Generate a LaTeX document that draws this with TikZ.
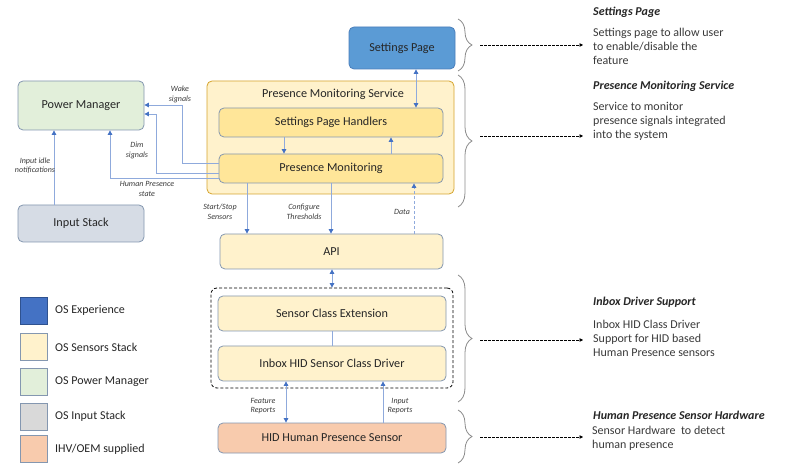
\documentclass[tikz,border=0pt]{standalone}
\usepackage{fontspec}
\setmainfont{Carlito}
\usetikzlibrary{arrows.meta,decorations.pathreplacing,calc}
\definecolor{bordc}{HTML}{8497B0}
\definecolor{linec}{HTML}{8FAADC}
\definecolor{tipc}{HTML}{4472C4}
\definecolor{txt}{HTML}{262626}
\definecolor{dtxt}{HTML}{3A3A3A}
\definecolor{spfill}{HTML}{5B9BD5}
\definecolor{spdraw}{HTML}{4A7EBB}
\definecolor{lightyel}{HTML}{FFF2CC}
\definecolor{darkyel}{HTML}{FFE699}
\definecolor{goldc}{HTML}{D6A52E}
\definecolor{greenf}{HTML}{E2EFDA}
\definecolor{inpf}{HTML}{D6DCE5}
\definecolor{greyf}{HTML}{D9D9D9}
\definecolor{orangef}{HTML}{F8CBAD}
\definecolor{expf}{HTML}{4472C4}
\definecolor{expd}{HTML}{2F528F}
\definecolor{bracec}{HTML}{8C8C8C}
\begin{document}
\begin{tikzpicture}[x=1pt,y=-1pt,
  box/.style={draw=bordc, line width=0.8pt, rounded corners=5pt, inner sep=0pt,
    font=\fontsize{12.2}{14}\selectfont, text=txt},
  conn/.style={draw=linec, line width=0.9pt, -{Triangle[length=4.5pt,width=4.5pt,color=tipc]}},
  biconn/.style={draw=linec, line width=0.9pt, {Triangle[length=4.5pt,width=4.5pt,color=tipc]}-{Triangle[length=4.5pt,width=4.5pt,color=tipc]}},
  plainconn/.style={draw=linec, line width=0.9pt},
  lbl/.style={font=\fontsize{8}{9.5}\selectfont\itshape, text=dtxt, align=center, inner sep=0pt},
  bracedeco/.style={decorate, decoration={brace, amplitude=14pt}, draw=bracec, line width=0.8pt},
  descarrow/.style={draw=black, line width=0.6pt, dashed, dash pattern=on 2.5pt off 1.5pt, -{Triangle[length=3.5pt,width=3.5pt]}},
  head/.style={font=\fontsize{12}{14}\selectfont\bfseries\itshape, text=txt, anchor=west, inner sep=0pt},
  desc/.style={font=\fontsize{12}{14}\selectfont, text=dtxt, anchor=west, align=left, inner sep=0pt},
  legsq/.style={draw=bordc, line width=0.8pt, minimum width=27pt, minimum height=27pt, inner sep=0pt},
  legtxt/.style={font=\fontsize{12}{14}\selectfont, text=txt, anchor=west, inner sep=0pt}
]
\useasboundingbox[fill=white] (0,0) rectangle (788,465);

% ---- main boxes
\node[box, fill=spfill, draw=spdraw, minimum width=106pt, minimum height=42pt] (sp) at (402,48) {Settings Page};
\node[box, fill=lightyel, draw=goldc, minimum width=247pt, minimum height=113pt] (pms) at (330.5,137.5) {};
\node[font=\fontsize{12.2}{14}\selectfont, text=txt, inner sep=0pt] (pmstitle) at (333,94) {Presence Monitoring Service};
\node[box, fill=darkyel, minimum width=224pt, minimum height=29pt] (sph) at (331,122.5) {Settings Page Handlers};
\node[box, fill=darkyel, minimum width=224pt, minimum height=29pt] (pm) at (331,168.5) {Presence Monitoring};
\node[box, fill=greenf, minimum width=126pt, minimum height=49pt] (pmgr) at (81,105.5) {Power Manager};
\node[box, fill=inpf, minimum width=126pt, minimum height=37pt] (inp) at (81,223.5) {Input Stack};
\node[box, fill=lightyel, minimum width=223pt, minimum height=35pt] (api) at (331.5,251.5) {API};
\node[draw=black, dashed, dash pattern=on 3pt off 2pt, line width=0.8pt, rounded corners=6pt, minimum width=242pt, minimum height=100pt, inner sep=0pt] (dbox) at (332,338) {};
\node[box, fill=lightyel, minimum width=228pt, minimum height=35pt] (sce) at (332,313.5) {Sensor Class Extension};
\node[box, fill=lightyel, minimum width=228pt, minimum height=35pt] (hid) at (332,363.5) {Inbox HID Sensor Class Driver};
\node[box, fill=orangef, minimum width=228pt, minimum height=30pt] (hps) at (332,438) {HID Human Presence Sensor};

% ---- connectors
\draw[biconn] (sp.south -| 416,0) -- (sph.north -| 416,0);
\draw[conn] (sph.south -| 284,0) -- (pm.north -| 284,0);
\draw[conn] (pm.north -| 391,0) -- (sph.south -| 391,0);
\draw[conn] (pm.west |- 0,163) -| (182,105) -- (pmgr.east |- 0,105);
\draw[conn] (pm.west |- 0,173) -| (156,114) -- (pmgr.east |- 0,114);
\draw[conn] (pm.west |- 0,178) -| (pmgr.south -| 110,0);
\draw[conn] (inp.north -| 54,0) -- (pmgr.south -| 54,0);
\draw[conn] (pm.south -| 247,0) -- (api.north -| 247,0);
\draw[conn] (pm.south -| 331,0) -- (api.north -| 331,0);
\draw[conn, dashed, dash pattern=on 3pt off 2pt] (api.north -| 414,0) -- (pm.south -| 414,0);
\draw[biconn] (api.south -| 332,0) -- (dbox.north -| 332,0);
\draw[plainconn] (sce.south) -- (hid.north);
\draw[biconn] (hid.south -| 286,0) -- (hps.north -| 286,0);
\draw[conn] (hps.north -| 383,0) -- (hid.south -| 383,0);

% ---- connector labels
\node[lbl] (lwake) at (180,94.5) {Wake\\signals};
\node[lbl] (ldim) at (137,150.5) {Dim\\signals};
\node[lbl] (lhps) at (147,189) {Human Presence\\state};
\node[lbl] (lidle) at (35,165.5) {Input idle\\notifications};
\node[lbl] (lss) at (220,212) {Start/Stop\\Sensors};
\node[lbl] (lct) at (304,212) {Configure\\Thresholds};
\node[lbl] (ldata) at (402,212) {Data};
\node[lbl] (lfr) at (263,406) {Feature\\Reports};
\node[lbl] (lir) at (400,406) {Input\\Reports};

% ---- braces
\draw[bracedeco] (458,19) -- (458,71);
\draw[bracedeco] (458,75) -- (458,207);
\draw[bracedeco] (458,275) -- (458,402);
\draw[bracedeco] (458,410) -- (458,463);
\coordinate (b1) at (480,45);  \coordinate (e1) at (583,45);
\coordinate (b2) at (480,136); \coordinate (e2) at (583,136);
\coordinate (b3) at (480,340); \coordinate (e3) at (583,340);
\coordinate (b4) at (480,437); \coordinate (e4) at (583,437);
\draw[descarrow] (b1) -- (e1);
\draw[descarrow] (b2) -- (e2);
\draw[descarrow] (b3) -- (e3);
\draw[descarrow] (b4) -- (e4);

% ---- descriptions
\node[head] (h1) at (593,12) {Settings Page};
\node[desc] (d1) at (593,46) {Settings page to allow user\\to enable/disable the\\feature};
\node[head] (h2) at (593,86) {Presence Monitoring Service};
\node[desc] (d2) at (593,121) {Service to monitor\\presence signals integrated\\into the system};
\node[head] (h3) at (593,302) {Inbox Driver Support};
\node[desc] (d3) at (593,338) {Inbox HID Class Driver\\Support for HID based\\Human Presence sensors};
\node[head] (h4) at (593,415) {Human Presence Sensor Hardware};
\node[desc] (d4) at (592,438) {Sensor Hardware\ \ to detect\\human presence};

% ---- legend
\node[legsq, fill=expf, draw=expd] (lg1) at (33.5,310.5) {};
\node[legsq, fill=lightyel] (lg2) at (33.5,347) {};
\node[legsq, fill=greenf] (lg3) at (33.5,382) {};
\node[legsq, fill=greyf] (lg4) at (33.5,416.5) {};
\node[legsq, fill=orangef] (lg5) at (33.5,449) {};
\node[legtxt] (lt1) at (55,310.5) {OS Experience};
\node[legtxt] (lt2) at (55,347) {OS Sensors Stack};
\node[legtxt] (lt3) at (55,382) {OS Power Manager};
\node[legtxt] (lt4) at (55,416.5) {OS Input Stack};
\node[legtxt] (lt5) at (55,449) {IHV/OEM supplied};
\end{tikzpicture}
\end{document}
